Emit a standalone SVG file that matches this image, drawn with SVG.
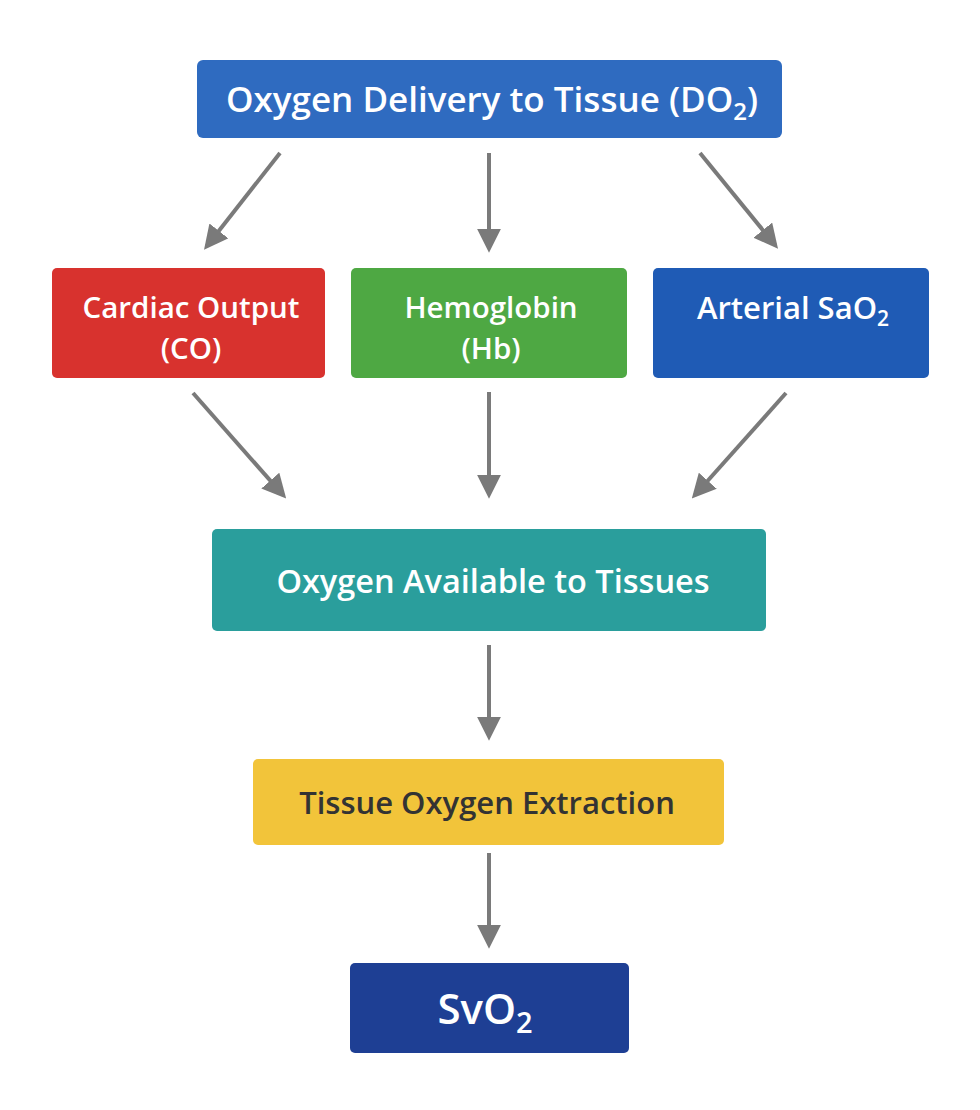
<svg xmlns="http://www.w3.org/2000/svg" width="980" height="1110" viewBox="0 0 980 1110">
<style>
.t{font-family:"Open Sans","DejaVu Sans",sans-serif;font-weight:600;fill:#fff;text-anchor:middle}
.c{stroke:#7a7a7a;stroke-width:4;fill:none;marker-end:url(#ah)}
</style>
<defs>
<marker id="ah" viewBox="0 0 10 10" refX="8" refY="5" markerWidth="6" markerHeight="6" orient="auto" markerUnits="strokeWidth"><path d="M0,0L10,5L0,10z" fill="#7a7a7a"/></marker>
</defs>
<rect width="980" height="1110" fill="#fff"/>
<g id="connectors">
<line class="c" x1="280" y1="153" x2="207" y2="246"/>
<line class="c" x1="489" y1="153" x2="489" y2="248"/>
<line class="c" x1="700" y1="153" x2="775" y2="245"/>
<line class="c" x1="193" y1="393" x2="283" y2="495"/>
<line class="c" x1="489" y1="392" x2="489" y2="494"/>
<line class="c" x1="786" y1="393" x2="695" y2="495"/>
<line class="c" x1="489" y1="645" x2="489" y2="736"/>
<line class="c" x1="489" y1="853" x2="489" y2="944"/>
</g>
<g id="do2"><rect x="197" y="60" width="585" height="78" rx="6" fill="#2f6bc0"/><text class="t" x="492" y="112" font-size="35">Oxygen Delivery to Tissue (DO<tspan font-size="24" dy="8">2</tspan><tspan dy="-8">)</tspan></text></g>
<g id="co"><rect x="52" y="268" width="273" height="110" rx="5" fill="#d8322e"/><text class="t" x="191" y="318" font-size="29.5">Cardiac Output</text><text class="t" x="191" y="359" font-size="29.5">(CO)</text></g>
<g id="hb"><rect x="351" y="268" width="276" height="110" rx="5" fill="#4ea843"/><text class="t" x="491" y="318" font-size="29.5">Hemoglobin</text><text class="t" x="491" y="359" font-size="29.5">(Hb)</text></g>
<g id="sao2"><rect x="653" y="268" width="276" height="110" rx="5" fill="#1f5bb5"/><text class="t" x="793" y="319" font-size="31">Arterial SaO<tspan font-size="21" dy="7">2</tspan></text></g>
<g id="avail"><rect x="212" y="529" width="554" height="102" rx="5" fill="#2a9e9c"/><text class="t" x="493" y="593" font-size="32.5">Oxygen Available to Tissues</text></g>
<g id="extr"><rect x="253" y="759" width="471" height="86" rx="5" fill="#f2c43a"/><text class="t" x="487" y="814" font-size="31" style="fill:#333">Tissue Oxygen Extraction</text></g>
<g id="svo2"><rect x="350" y="963" width="279" height="90" rx="5" fill="#1e3f94"/><text class="t" x="485" y="1024" font-size="42">SvO<tspan font-size="29" dy="9">2</tspan></text></g>
</svg>
